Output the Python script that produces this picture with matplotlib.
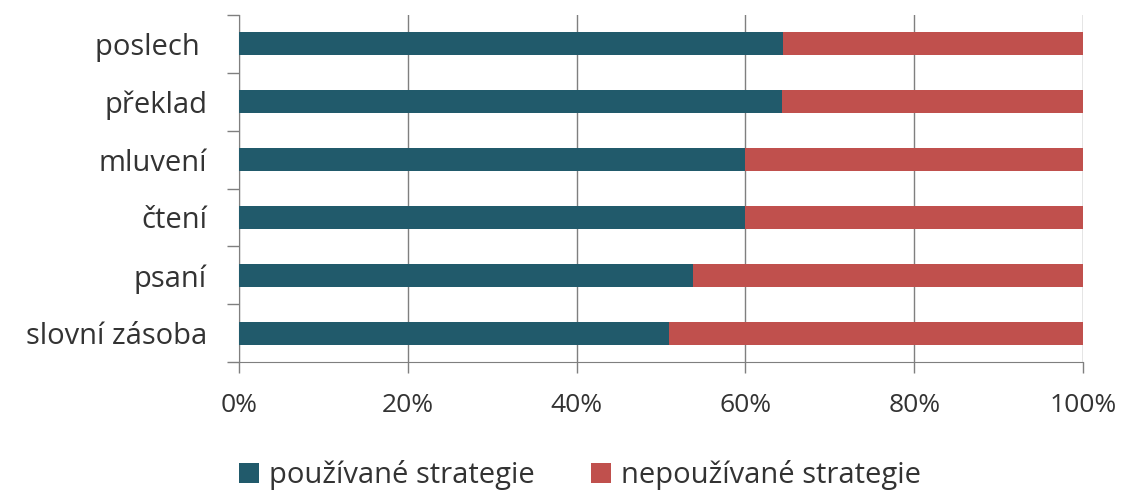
import matplotlib.pyplot as plt
import numpy as np
from matplotlib.ticker import FixedLocator, PercentFormatter

categories = ["poslech ", "překlad", "mluvení", "čtení", "psaní", "slovní zásoba"]
used = [64.5, 64.3, 60.0, 60.0, 53.8, 50.9]
unused = [35.5, 35.7, 40.0, 40.0, 46.2, 49.1]
series_names = ["používané strategie", "nepoužívané strategie"]
colors = ["#215a6b", "#c0504d"]
xticks = [0, 20, 40, 60, 80, 100]

plt.rcParams['font.family'] = ['Open Sans', 'DejaVu Sans']
txt = "#333333"
line_col = "#7f7f7f"

fig = plt.figure(figsize=(11.24, 4.91), dpi=100)
ax = fig.add_axes([239/1124, 1-362/491, (1083-239)/1124, (362-15)/491])

y = np.arange(len(categories))
ax.barh(y, used, height=0.4, color=colors[0], label=series_names[0], zorder=3)
ax.barh(y, unused, left=used, height=0.4, color=colors[1], label=series_names[1], zorder=3)

ax.set_xlim(0, 100)
ax.set_ylim(len(categories) - 0.5, -0.5)

ax.set_xticks(xticks)
ax.xaxis.set_major_formatter(PercentFormatter(decimals=0))
ax.tick_params(axis='x', length=8, width=1, color=line_col, labelsize=19,
               labelcolor=txt, pad=14)
ax.grid(axis='x', color=line_col, linewidth=1, zorder=1)

ax.set_yticks(y)
ax.set_yticklabels(categories)
ax.yaxis.set_minor_locator(FixedLocator(np.arange(len(categories) + 1) - 0.5))
ax.tick_params(axis='y', which='major', length=0, labelsize=21, labelcolor=txt, pad=23)
ax.tick_params(axis='y', which='minor', length=9, width=1, color=line_col)

for s in ['top', 'right']:
    ax.spines[s].set_visible(False)
ax.spines['left'].set_color(line_col)
ax.spines['bottom'].set_color(line_col)

fig.legend(loc='center', bbox_to_anchor=(580/1124, 1-475/491), ncol=2, frameon=False,
           fontsize=21, labelcolor=txt, handlelength=0.7, handleheight=0.7,
           handletextpad=0.35, columnspacing=1.9)

fig.savefig("out.png", dpi=100)
